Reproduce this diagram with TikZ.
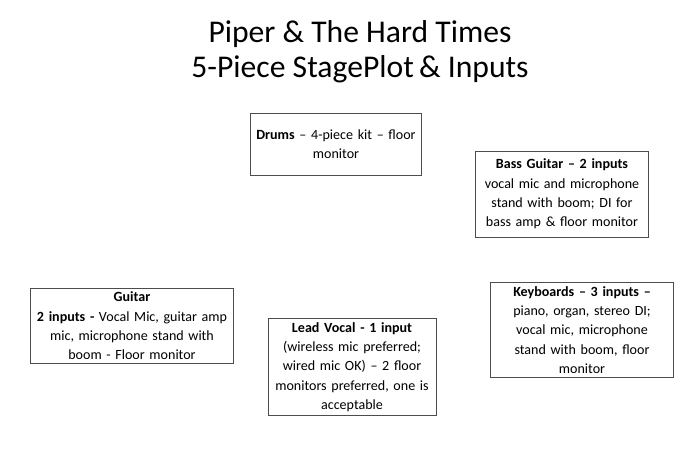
\documentclass[tikz,border=0pt]{standalone}
\usepackage{fontspec}
\setmainfont{Carlito}
\hyphenpenalty=10000
\tikzset{
  infobox/.style = {draw=black!70, line width=0.5pt, align=center,
                    font=\fontsize{8}{11}\selectfont, inner sep=2pt},
  titletext/.style = {align=center, font=\fontsize{18}{20}\selectfont},
}
\begin{document}
\begin{tikzpicture}[x=0.02cm,y=-0.02cm]
\useasboundingbox (0,0) rectangle (700,450);
\node[titletext] (title) at (360,52) {Piper \& The Hard Times\\5-Piece StagePlot\,\& Inputs};
\node[infobox, minimum width=168*0.02cm, minimum height=62*0.02cm, text width=164*0.02cm] (drums) at (336,144)
  {\textbf{Drums} -- 4-piece kit -- floor\\monitor};
\node[infobox, minimum width=170*0.02cm, minimum height=86*0.02cm, text width=166*0.02cm] (bass) at (562,194)
  {\textbf{Bass Guitar -- 2 inputs}\\vocal mic and microphone\\stand with boom; DI for\\bass amp \& floor monitor};
\node[infobox, minimum width=200*0.02cm, minimum height=64*0.02cm, text width=196*0.02cm] (guitar) at (132,326)
  {\textbf{Guitar}\\\textbf{2 inputs -} Vocal Mic, guitar amp\\mic, microphone stand with\\boom - Floor monitor};
\node[infobox, minimum width=165*0.02cm, minimum height=91*0.02cm, text width=161*0.02cm] (vocal) at (352,367)
  {\textbf{Lead Vocal - 1 input}\\(wireless mic preferred;\\wired mic OK) -- 2 floor\\monitors preferred, one is\\acceptable};
\node[infobox, minimum width=180*0.02cm, minimum height=89*0.02cm, text width=176*0.02cm] (keys) at (582,330)
  {\textbf{Keyboards -- 3 inputs --}\\piano, organ, stereo DI;\\vocal mic, microphone\\stand with boom, floor\\monitor};
\end{tikzpicture}
\end{document}
